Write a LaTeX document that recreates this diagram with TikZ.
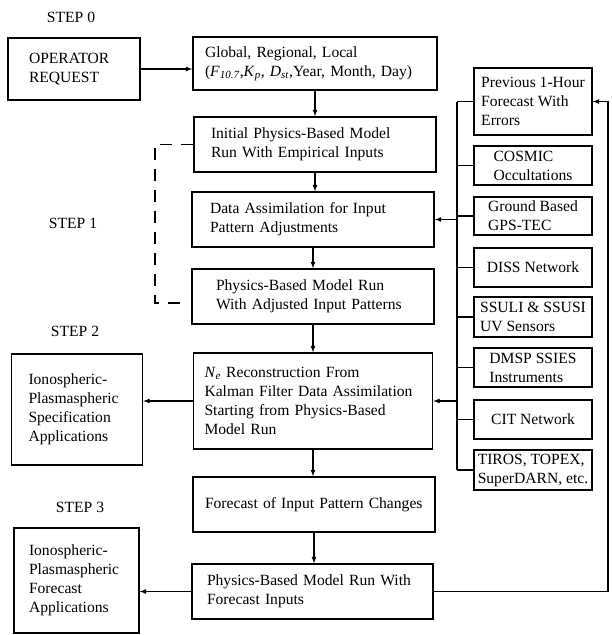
\documentclass[tikz,border=0pt]{standalone}
\usepackage{fontspec}
\setmainfont{Liberation Serif}
\usepackage{tikz}

\begin{document}
\begin{tikzpicture}[x=1pt,y=-1pt,font=\fontsize{15.6}{19}\selectfont,
  box/.style={draw,line width=1.5pt,align=left,inner sep=2pt},
  main/.style={box,inner xsep=#1},
  arr/.style={line width=1.2pt}]
  \useasboundingbox (0,0) rectangle (612,635);

  \node (S0) at (71,17) {STEP 0};
  \node (S1) at (73,223) {STEP 1};
  \node (S2) at (75,331) {STEP 2};
  \node (S3) at (80,507) {STEP 3};

  \node[main=21pt,text width=90pt,minimum height=62pt] (Op) at (74,69) {OPERATOR\\REQUEST};
  \node[main=12pt,text width=220pt,minimum height=53pt] (Glob) at (315,63.5) {Global, Regional, Local\\(\textit{F}\textsubscript{\textit{10.7}},\textit{K}\textsubscript{\textit{p}}, \textit{D}\textsubscript{\textit{st}},Year, Month, Day)};
  \node[main=17pt,text width=208pt,minimum height=55pt] (Init) at (315,144.5) {Initial Physics-Based Model\\Run With Empirical Inputs};
  \node[main=18pt,text width=206pt,minimum height=55pt] (DA) at (313,219.5) {Data Assimilation for Input\\Pattern Adjustments};
  \node[main=24pt,text width=194pt,minimum height=55pt] (Run) at (313,296.5) {Physics-Based Model Run\\With Adjusted Input Patterns};
  \node[main=11pt,text width=217pt,minimum height=96pt] (Ne) at (313,401) {\textit{N}\textsubscript{\textit{e}} Reconstruction From\\Kalman Filter Data Assimilation\\Starting from Physics-Based\\Model Run};
  \node[main=12pt,text width=218pt,minimum height=55pt] (Fc) at (314,504.5) {Forecast of Input Pattern Changes};
  \node[main=15pt,text width=211pt,minimum height=55pt] (FRun) at (312.5,591.5) {Physics-Based Model Run With\\Forecast Inputs};

  \node[main=17pt,text width=97pt,minimum height=111pt] (Spec) at (77,409.5) {Ionospheric-\\Plasmaspheric\\Specification\\Applications};
  \node[main=15pt,text width=95pt,minimum height=105pt] (FApp) at (76.5,580.5) {Ionospheric-\\Plasmaspheric\\Forecast\\Applications};

  \node[box,minimum width=118pt,minimum height=67pt] (Prev) at (533,101.5) {Previous 1-Hour\\Forecast With\\Errors};
  \node[box,minimum width=118pt,minimum height=39pt] (Cosmic) at (533,165.5) {COSMIC\\Occultations};
  \node[box,minimum width=118pt,minimum height=38pt] (Gps) at (533,216) {Ground Based\\GPS-TEC};
  \node[box,minimum width=118pt,minimum height=39pt] (Diss) at (533,267.5) {DISS Network};
  \node[box,minimum width=118pt,minimum height=40pt] (Ssuli) at (533,317) {SSULI \& SSUSI\\UV Sensors};
  \node[box,minimum width=118pt,minimum height=39pt] (Dmsp) at (533,367.5) {DMSP SSIES\\Instruments};
  \node[box,minimum width=118pt,minimum height=39pt] (Cit) at (533,419.5) {CIT Network};
  \node[box,minimum width=118pt,minimum height=40pt] (Tiros) at (533,470) {TIROS, TOPEX,\\SuperDARN, etc.};

  \coordinate (Bus) at (457,0);
  \coordinate (Edge) at (608,0);
  \coordinate (DashB) at (155,303);
  \coordinate (DashE) at (180,303);

  \draw[arr,-latex] (Op) -- (Op -| Glob.west);
  \draw[arr,-latex] (Glob.south) -- (Glob.south |- Init.north);
  \draw[arr,-latex] (Init.south) -- (Init.south |- DA.north);
  \draw[arr,-latex] (DA.south) -- (DA.south |- Run.north);
  \draw[arr,-latex] (Run.south) -- (Run.south |- Ne.north);
  \draw[arr,-latex] (Ne.south) -- (Ne.south |- Fc.north);
  \draw[arr,-latex] (Fc.south) -- (Fc.south |- FRun.north);
  \draw[arr,-latex] (Ne.west) -- (Ne.west -| Spec.east);
  \draw[arr,-latex] (FRun.west) -- (FRun.west -| FApp.east);

  \draw[line width=1.5pt,dash pattern=on 12pt off 9pt] (Init.west) -- (Init.west -| DashB) -- (DashB) -- (DashE);

  \draw[arr] (Bus |- Prev.west) -- (Bus |- Tiros.west);
  \draw[arr] (Bus |- Prev.west) -- (Prev.west);
  \draw[arr] (Bus |- Cosmic.west) -- (Cosmic.west);
  \draw[arr] (Bus |- Gps.west) -- (Gps.west);
  \draw[arr] (Bus |- Diss.west) -- (Diss.west);
  \draw[arr] (Bus |- Ssuli.west) -- (Ssuli.west);
  \draw[arr] (Bus |- Dmsp.west) -- (Dmsp.west);
  \draw[arr] (Bus |- Cit.west) -- (Cit.west);
  \draw[arr] (Bus |- Tiros.west) -- (Tiros.west);
  \draw[arr,-latex] (Bus |- DA.east) -- (DA.east);
  \draw[arr,-latex] (Bus |- Ne.east) -- (Ne.east);

  \draw[arr,-latex] (FRun.east) -- (FRun.east -| Edge) -- (Edge |- Prev.east) -- (Prev.east);
\end{tikzpicture}
\end{document}
